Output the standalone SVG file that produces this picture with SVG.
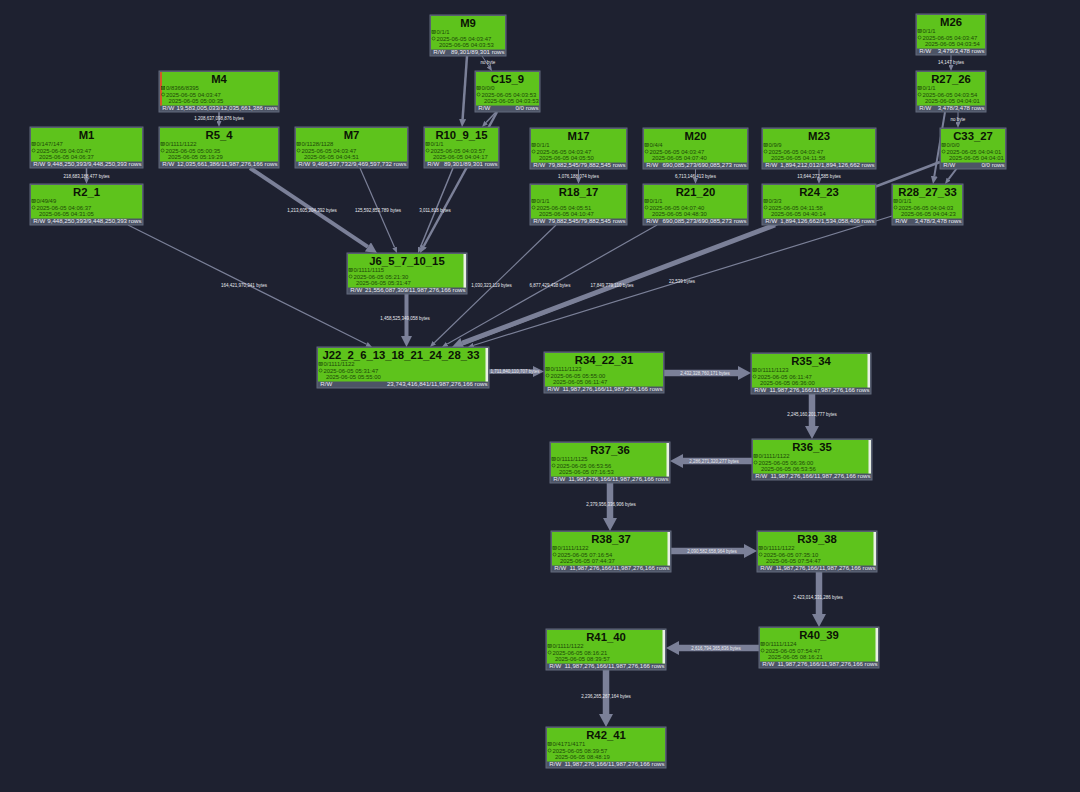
<svg xmlns="http://www.w3.org/2000/svg" xmlns:xlink="http://www.w3.org/1999/xlink" width="1080" height="792" viewBox="0 0 1080 792">
<style>
.bg{fill:#1e2130}
.box{fill:#4d5466;stroke:#626a7d;stroke-width:1}
.fill{fill:#5ec31c}
.ttl{font-family:"Liberation Sans",Arial,sans-serif;font-weight:bold;font-size:11.3px;fill:#0b1405;text-anchor:middle}
.tx{font-family:"Liberation Sans",Arial,sans-serif;font-size:5.9px;fill:#1d4a08}
.bt{font-family:"Liberation Sans",Arial,sans-serif;font-size:6.1px;fill:#e9ebf2}
.r{text-anchor:end}
.ic{fill:none;stroke:#1d4a08;stroke-width:0.6}
.e{stroke:#7b8098;fill:none;stroke-linecap:butt}
.ah{fill:#7b8098}
.el{font-family:"Liberation Sans",Arial,sans-serif;font-size:4.5px;fill:#e8e9ef;text-anchor:middle}
.pg{fill:#e9efe4}
.rs{fill:#d2572a}
</style>
<defs>
<g id="i1"><rect x="0" y="0" width="3.2" height="3.2" class="ic"/><path d="M0.6,0.6L2.6,2.6M2.6,0.6L0.6,2.6" class="ic"/></g>
<g id="i2"><circle cx="1.6" cy="1.6" r="1.5" class="ic"/></g>
<marker id="aS" markerUnits="userSpaceOnUse" viewBox="0 0 6 5" markerWidth="6" markerHeight="5" refX="0" refY="2.5" orient="auto"><path d="M0,0L6,2.5L0,5z" class="ah"/></marker>
<marker id="aM" markerUnits="userSpaceOnUse" viewBox="0 0 8 7" markerWidth="8" markerHeight="7" refX="0" refY="3.5" orient="auto"><path d="M0,0L8,3.5L0,7z" class="ah"/></marker>
<marker id="aL" markerUnits="userSpaceOnUse" viewBox="0 0 11 11" markerWidth="11" markerHeight="11" refX="0" refY="5.5" orient="auto"><path d="M0,0L11,5.5L0,11z" class="ah"/></marker>
<marker id="aX" markerUnits="userSpaceOnUse" viewBox="0 0 13 14" markerWidth="13" markerHeight="14" refX="0" refY="7" orient="auto"><path d="M0,0L13,7L0,14z" class="ah"/></marker>
</defs>
<rect class="bg" width="1080" height="792"/>
<g id="connectors">
<line class="e" stroke-width="1.5" x1="219" y1="112" x2="219" y2="121" marker-end="url(#aS)"/>
<line class="e" stroke-width="1.5" x1="86.5" y1="168" x2="86.5" y2="178" marker-end="url(#aS)"/>
<line class="e" stroke-width="2.5" x1="467" y1="56" x2="462.6" y2="119.1" marker-end="url(#aM)"/>
<line class="e" stroke-width="1" x1="482" y1="56" x2="488.7" y2="66" marker-end="url(#aS)"/>
<line class="e" stroke-width="1.5" x1="496" y1="112" x2="486.1" y2="122.6" marker-end="url(#aS)"/>
<line class="e" stroke-width="2.5" x1="497" y1="112" x2="423.8" y2="246" marker-end="url(#aM)"/>
<line class="e" stroke-width="1.5" x1="453" y1="168" x2="420.3" y2="247.5" marker-end="url(#aS)"/>
<line class="e" stroke-width="1.2" x1="360" y1="168" x2="394.6" y2="247.5" marker-end="url(#aS)"/>
<line class="e" stroke-width="4" x1="250" y1="168" x2="367.9" y2="246.9" marker-end="url(#aL)"/>
<line class="e" stroke-width="1.2" x1="128" y1="225" x2="366.6" y2="344.3" marker-end="url(#aS)"/>
<line class="e" stroke-width="4" x1="406.5" y1="294" x2="406.5" y2="336" marker-end="url(#aL)"/>
<line class="e" stroke-width="1" x1="578.5" y1="169" x2="578.5" y2="178" marker-end="url(#aS)"/>
<line class="e" stroke-width="1" x1="695.5" y1="169" x2="695.5" y2="178" marker-end="url(#aS)"/>
<line class="e" stroke-width="1" x1="819" y1="169" x2="819" y2="178" marker-end="url(#aS)"/>
<line class="e" stroke-width="1.2" x1="556" y1="225" x2="434.3" y2="342.8" marker-end="url(#aS)"/>
<line class="e" stroke-width="1.2" x1="657" y1="225" x2="447.2" y2="344" marker-end="url(#aS)"/>
<line class="e" stroke-width="2.5" x1="940" y1="162" x2="462.5" y2="344.2" marker-end="url(#aM)"/>
<line class="e" stroke-width="5" x1="775" y1="225" x2="462.3" y2="343.1" marker-end="url(#aL)"/>
<line class="e" stroke-width="1.2" x1="892" y1="216" x2="473.7" y2="345.2" marker-end="url(#aS)"/>
<line class="e" stroke-width="1" x1="951" y1="55" x2="951" y2="65" marker-end="url(#aS)"/>
<line class="e" stroke-width="1" x1="958" y1="112" x2="958" y2="122" marker-end="url(#aS)"/>
<line class="e" stroke-width="2" x1="945" y1="112" x2="934.3" y2="176.1" marker-end="url(#aM)"/>
<line class="e" stroke-width="2" x1="957" y1="168" x2="948.6" y2="179.2" marker-end="url(#aS)"/>
<line class="e" stroke-width="4.5" x1="489" y1="371.5" x2="533" y2="371.5" marker-end="url(#aL)"/>
<line class="e" stroke-width="6.5" x1="664" y1="373" x2="738" y2="373" marker-end="url(#aX)"/>
<line class="e" stroke-width="6.5" x1="812" y1="394" x2="812" y2="426" marker-end="url(#aX)"/>
<line class="e" stroke-width="6.5" x1="752" y1="461" x2="683" y2="461" marker-end="url(#aX)"/>
<line class="e" stroke-width="6.5" x1="610" y1="483" x2="610" y2="518" marker-end="url(#aX)"/>
<line class="e" stroke-width="6.5" x1="671" y1="551" x2="744" y2="551" marker-end="url(#aX)"/>
<line class="e" stroke-width="6.5" x1="819" y1="572" x2="819" y2="614" marker-end="url(#aX)"/>
<line class="e" stroke-width="6.5" x1="759" y1="648" x2="679" y2="648" marker-end="url(#aX)"/>
<line class="e" stroke-width="6.5" x1="606" y1="670" x2="606" y2="714" marker-end="url(#aX)"/>
</g>
<g id="nodes">
<g id="n-M9" transform="translate(430,15)"><rect class="box" width="76" height="41"/><rect class="fill" x="1" y="1" width="74" height="33.5"/><text class="ttl" x="38" y="12.2">M9</text><use href="#i1" x="2" y="15.4"/><text class="tx" x="6.5" y="19.2">0/1/1</text><use href="#i2" x="2" y="21.9"/><text class="tx" x="6.5" y="25.6">2025-06-05 04:03:47</text><text class="tx" x="9" y="32">2025-06-05 04:03:53</text><text class="bt" x="3.3" y="39.3">R/W</text><text class="bt r" x="74.5" y="39.3">89,301/89,301 rows</text></g>
<g id="n-C15_9" transform="translate(475,71)"><rect class="box" width="65" height="41"/><rect class="fill" x="1" y="1" width="63" height="33.5"/><text class="ttl" x="32.5" y="12.2">C15_9</text><use href="#i1" x="2" y="15.4"/><text class="tx" x="6.5" y="19.2">0/0/0</text><use href="#i2" x="2" y="21.9"/><text class="tx" x="6.5" y="25.6">2025-06-05 04:03:53</text><text class="tx" x="9" y="32">2025-06-05 04:03:53</text><text class="bt" x="3.3" y="39.3">R/W</text><text class="bt r" x="63.5" y="39.3">0/0 rows</text></g>
<g id="n-M26" transform="translate(916,14)"><rect class="box" width="70" height="41"/><rect class="fill" x="1" y="1" width="68" height="33.5"/><text class="ttl" x="35" y="12.2">M26</text><use href="#i1" x="2" y="15.4"/><text class="tx" x="6.5" y="19.2">0/1/1</text><use href="#i2" x="2" y="21.9"/><text class="tx" x="6.5" y="25.6">2025-06-05 04:03:47</text><text class="tx" x="9" y="32">2025-06-05 04:03:54</text><text class="bt" x="3.3" y="39.3">R/W</text><text class="bt r" x="68.5" y="39.3">3,479/3,478 rows</text></g>
<g id="n-R27_26" transform="translate(916,71)"><rect class="box" width="70" height="41"/><rect class="fill" x="1" y="1" width="68" height="33.5"/><text class="ttl" x="35" y="12.2">R27_26</text><use href="#i1" x="2" y="15.4"/><text class="tx" x="6.5" y="19.2">0/1/1</text><use href="#i2" x="2" y="21.9"/><text class="tx" x="6.5" y="25.6">2025-06-05 04:03:54</text><text class="tx" x="9" y="32">2025-06-05 04:04:01</text><text class="bt" x="3.3" y="39.3">R/W</text><text class="bt r" x="68.5" y="39.3">3,478/3,478 rows</text></g>
<g id="n-M4" transform="translate(159,71)"><rect class="box" width="120" height="41"/><rect class="fill" x="1" y="1" width="118" height="33.5"/><rect class="rs" x="1" y="1" width="2" height="33.5"/><text class="ttl" x="60" y="12.2">M4</text><use href="#i1" x="2.5" y="15.4"/><text class="tx" x="7" y="19.2">0/8366/8395</text><use href="#i2" x="2.5" y="21.9"/><text class="tx" x="7" y="25.6">2025-06-05 04:03:47</text><text class="tx" x="9.5" y="32">2025-06-05 05:00:35</text><text class="bt" x="3.3" y="39.3">R/W</text><text class="bt r" x="118.5" y="39.3">19,583,005,033/12,035,661,386 rows</text></g>
<g id="n-M1" transform="translate(30,127)"><rect class="box" width="113" height="41"/><rect class="fill" x="1" y="1" width="111" height="33.5"/><text class="ttl" x="56.5" y="12.2">M1</text><use href="#i1" x="2" y="15.4"/><text class="tx" x="6.5" y="19.2">0/147/147</text><use href="#i2" x="2" y="21.9"/><text class="tx" x="6.5" y="25.6">2025-06-05 04:03:47</text><text class="tx" x="9" y="32">2025-06-05 04:06:37</text><text class="bt" x="3.3" y="39.3">R/W</text><text class="bt r" x="111.5" y="39.3">9,448,250,393/9,448,250,393 rows</text></g>
<g id="n-R5_4" transform="translate(159,127)"><rect class="box" width="120" height="41"/><rect class="fill" x="1" y="1" width="118" height="33.5"/><text class="ttl" x="60" y="12.2">R5_4</text><use href="#i1" x="2" y="15.4"/><text class="tx" x="6.5" y="19.2">0/1111/1122</text><use href="#i2" x="2" y="21.9"/><text class="tx" x="6.5" y="25.6">2025-06-05 05:00:35</text><text class="tx" x="9" y="32">2025-06-05 05:19:29</text><text class="bt" x="3.3" y="39.3">R/W</text><text class="bt r" x="118.5" y="39.3">12,035,661,386/11,987,276,166 rows</text></g>
<g id="n-M7" transform="translate(295,127)"><rect class="box" width="113" height="41"/><rect class="fill" x="1" y="1" width="111" height="33.5"/><text class="ttl" x="56.5" y="12.2">M7</text><use href="#i1" x="2" y="15.4"/><text class="tx" x="6.5" y="19.2">0/1128/1128</text><use href="#i2" x="2" y="21.9"/><text class="tx" x="6.5" y="25.6">2025-06-05 04:03:47</text><text class="tx" x="9" y="32">2025-06-05 04:04:51</text><text class="bt" x="3.3" y="39.3">R/W</text><text class="bt r" x="111.5" y="39.3">9,469,597,732/9,469,597,732 rows</text></g>
<g id="n-R10_9_15" transform="translate(424,127)"><rect class="box" width="75" height="41"/><rect class="fill" x="1" y="1" width="73" height="33.5"/><text class="ttl" x="37.5" y="12.2">R10_9_15</text><use href="#i1" x="2" y="15.4"/><text class="tx" x="6.5" y="19.2">0/1/1</text><use href="#i2" x="2" y="21.9"/><text class="tx" x="6.5" y="25.6">2025-06-05 04:03:57</text><text class="tx" x="9" y="32">2025-06-05 04:04:17</text><text class="bt" x="3.3" y="39.3">R/W</text><text class="bt r" x="73.5" y="39.3">89,301/89,301 rows</text></g>
<g id="n-M17" transform="translate(530,128)"><rect class="box" width="97" height="41"/><rect class="fill" x="1" y="1" width="95" height="33.5"/><text class="ttl" x="48.5" y="12.2">M17</text><use href="#i1" x="2" y="15.4"/><text class="tx" x="6.5" y="19.2">0/1/1</text><use href="#i2" x="2" y="21.9"/><text class="tx" x="6.5" y="25.6">2025-06-05 04:03:47</text><text class="tx" x="9" y="32">2025-06-05 04:05:50</text><text class="bt" x="3.3" y="39.3">R/W</text><text class="bt r" x="95.5" y="39.3">79,882,545/79,882,545 rows</text></g>
<g id="n-M20" transform="translate(643,128)"><rect class="box" width="105" height="41"/><rect class="fill" x="1" y="1" width="103" height="33.5"/><text class="ttl" x="52.5" y="12.2">M20</text><use href="#i1" x="2" y="15.4"/><text class="tx" x="6.5" y="19.2">0/4/4</text><use href="#i2" x="2" y="21.9"/><text class="tx" x="6.5" y="25.6">2025-06-05 04:03:47</text><text class="tx" x="9" y="32">2025-06-05 04:07:40</text><text class="bt" x="3.3" y="39.3">R/W</text><text class="bt r" x="103.5" y="39.3">690,085,273/690,085,273 rows</text></g>
<g id="n-M23" transform="translate(762,128)"><rect class="box" width="114" height="41"/><rect class="fill" x="1" y="1" width="112" height="33.5"/><text class="ttl" x="57" y="12.2">M23</text><use href="#i1" x="2" y="15.4"/><text class="tx" x="6.5" y="19.2">0/9/9</text><use href="#i2" x="2" y="21.9"/><text class="tx" x="6.5" y="25.6">2025-06-05 04:03:47</text><text class="tx" x="9" y="32">2025-06-05 04:11:58</text><text class="bt" x="3.3" y="39.3">R/W</text><text class="bt r" x="112.5" y="39.3">1,894,212,012/1,894,126,662 rows</text></g>
<g id="n-C33_27" transform="translate(940,128)"><rect class="box" width="66" height="41"/><rect class="fill" x="1" y="1" width="64" height="33.5"/><text class="ttl" x="33" y="12.2">C33_27</text><use href="#i1" x="2" y="15.4"/><text class="tx" x="6.5" y="19.2">0/0/0</text><use href="#i2" x="2" y="21.9"/><text class="tx" x="6.5" y="25.6">2025-06-05 04:04:01</text><text class="tx" x="9" y="32">2025-06-05 04:04:01</text><text class="bt" x="3.3" y="39.3">R/W</text><text class="bt r" x="64.5" y="39.3">0/0 rows</text></g>
<g id="n-R2_1" transform="translate(30,184)"><rect class="box" width="113" height="41"/><rect class="fill" x="1" y="1" width="111" height="33.5"/><text class="ttl" x="56.5" y="12.2">R2_1</text><use href="#i1" x="2" y="15.4"/><text class="tx" x="6.5" y="19.2">0/49/49</text><use href="#i2" x="2" y="21.9"/><text class="tx" x="6.5" y="25.6">2025-06-05 04:06:37</text><text class="tx" x="9" y="32">2025-06-05 04:31:05</text><text class="bt" x="3.3" y="39.3">R/W</text><text class="bt r" x="111.5" y="39.3">9,448,250,393/9,448,250,393 rows</text></g>
<g id="n-R18_17" transform="translate(530,184)"><rect class="box" width="97" height="41"/><rect class="fill" x="1" y="1" width="95" height="33.5"/><text class="ttl" x="48.5" y="12.2">R18_17</text><use href="#i1" x="2" y="15.4"/><text class="tx" x="6.5" y="19.2">0/1/1</text><use href="#i2" x="2" y="21.9"/><text class="tx" x="6.5" y="25.6">2025-06-05 04:05:51</text><text class="tx" x="9" y="32">2025-06-05 04:10:47</text><text class="bt" x="3.3" y="39.3">R/W</text><text class="bt r" x="95.5" y="39.3">79,882,545/79,882,545 rows</text></g>
<g id="n-R21_20" transform="translate(643,184)"><rect class="box" width="105" height="41"/><rect class="fill" x="1" y="1" width="103" height="33.5"/><text class="ttl" x="52.5" y="12.2">R21_20</text><use href="#i1" x="2" y="15.4"/><text class="tx" x="6.5" y="19.2">0/1/1</text><use href="#i2" x="2" y="21.9"/><text class="tx" x="6.5" y="25.6">2025-06-05 04:07:40</text><text class="tx" x="9" y="32">2025-06-05 04:48:30</text><text class="bt" x="3.3" y="39.3">R/W</text><text class="bt r" x="103.5" y="39.3">690,085,273/690,085,273 rows</text></g>
<g id="n-R24_23" transform="translate(762,184)"><rect class="box" width="114" height="41"/><rect class="fill" x="1" y="1" width="112" height="33.5"/><text class="ttl" x="57" y="12.2">R24_23</text><use href="#i1" x="2" y="15.4"/><text class="tx" x="6.5" y="19.2">0/3/3</text><use href="#i2" x="2" y="21.9"/><text class="tx" x="6.5" y="25.6">2025-06-05 04:11:58</text><text class="tx" x="9" y="32">2025-06-05 04:40:14</text><text class="bt" x="3.3" y="39.3">R/W</text><text class="bt r" x="112.5" y="39.3">1,894,126,662/1,534,058,406 rows</text></g>
<g id="n-R28_27_33" transform="translate(892,184)"><rect class="box" width="71" height="41"/><rect class="fill" x="1" y="1" width="69" height="33.5"/><text class="ttl" x="35.5" y="12.2">R28_27_33</text><use href="#i1" x="2" y="15.4"/><text class="tx" x="6.5" y="19.2">0/1/1</text><use href="#i2" x="2" y="21.9"/><text class="tx" x="6.5" y="25.6">2025-06-05 04:04:03</text><text class="tx" x="9" y="32">2025-06-05 04:04:23</text><text class="bt" x="3.3" y="39.3">R/W</text><text class="bt r" x="69.5" y="39.3">3,478/3,478 rows</text></g>
<g id="n-J6_5_7_10_15" transform="translate(347,253)"><rect class="box" width="120" height="41"/><rect class="fill" x="1" y="1" width="118" height="33.5"/><rect class="pg" x="116.5" y="1" width="2.5" height="33.5"/><text class="ttl" x="60" y="12.2">J6_5_7_10_15</text><use href="#i1" x="2" y="15.4"/><text class="tx" x="6.5" y="19.2">0/1111/1115</text><use href="#i2" x="2" y="21.9"/><text class="tx" x="6.5" y="25.6">2025-06-05 05:21:30</text><text class="tx" x="9" y="32">2025-06-05 05:31:47</text><text class="bt" x="3.3" y="39.3">R/W</text><text class="bt r" x="118.5" y="39.3">21,556,087,309/11,987,276,166 rows</text></g>
<g id="n-J22" transform="translate(317,347)"><rect class="box" width="172" height="41"/><rect class="fill" x="1" y="1" width="170" height="33.5"/><rect class="pg" x="168.5" y="1" width="2.5" height="33.5"/><text class="ttl" x="84" y="12.2">J22_2_6_13_18_21_24_28_33</text><use href="#i1" x="2" y="15.4"/><text class="tx" x="6.5" y="19.2">0/1111/1122</text><use href="#i2" x="2" y="21.9"/><text class="tx" x="6.5" y="25.6">2025-06-05 05:31:47</text><text class="tx" x="9" y="32">2025-06-05 05:55:00</text><text class="bt" x="3.3" y="39.3">R/W</text><text class="bt r" x="170.5" y="39.3">23,743,416,841/11,987,276,166 rows</text></g>
<g id="n-R34_22_31" transform="translate(544,352)"><rect class="box" width="120" height="41"/><rect class="fill" x="1" y="1" width="118" height="33.5"/><text class="ttl" x="60" y="12.2">R34_22_31</text><use href="#i1" x="2" y="15.4"/><text class="tx" x="6.5" y="19.2">0/1111/1123</text><use href="#i2" x="2" y="21.9"/><text class="tx" x="6.5" y="25.6">2025-06-05 05:55:00</text><text class="tx" x="9" y="32">2025-06-05 06:11:47</text><text class="bt" x="3.3" y="39.3">R/W</text><text class="bt r" x="118.5" y="39.3">11,987,276,166/11,987,276,166 rows</text></g>
<g id="n-R35_34" transform="translate(751,353)"><rect class="box" width="120" height="41"/><rect class="fill" x="1" y="1" width="118" height="33.5"/><rect class="pg" x="116.5" y="1" width="2.5" height="33.5"/><text class="ttl" x="60" y="12.2">R35_34</text><use href="#i1" x="2" y="15.4"/><text class="tx" x="6.5" y="19.2">0/1111/1123</text><use href="#i2" x="2" y="21.9"/><text class="tx" x="6.5" y="25.6">2025-06-05 06:11:47</text><text class="tx" x="9" y="32">2025-06-05 06:36:00</text><text class="bt" x="3.3" y="39.3">R/W</text><text class="bt r" x="118.5" y="39.3">11,987,276,166/11,987,276,166 rows</text></g>
<g id="n-R36_35" transform="translate(752,439)"><rect class="box" width="120" height="41"/><rect class="fill" x="1" y="1" width="118" height="33.5"/><rect class="pg" x="116.5" y="1" width="2.5" height="33.5"/><text class="ttl" x="60" y="12.2">R36_35</text><use href="#i1" x="2" y="15.4"/><text class="tx" x="6.5" y="19.2">0/1111/1122</text><use href="#i2" x="2" y="21.9"/><text class="tx" x="6.5" y="25.6">2025-06-05 06:36:00</text><text class="tx" x="9" y="32">2025-06-05 06:53:56</text><text class="bt" x="3.3" y="39.3">R/W</text><text class="bt r" x="118.5" y="39.3">11,987,276,166/11,987,276,166 rows</text></g>
<g id="n-R37_36" transform="translate(550,442)"><rect class="box" width="120" height="41"/><rect class="fill" x="1" y="1" width="118" height="33.5"/><rect class="pg" x="116.5" y="1" width="2.5" height="33.5"/><text class="ttl" x="60" y="12.2">R37_36</text><use href="#i1" x="2" y="15.4"/><text class="tx" x="6.5" y="19.2">0/1111/1125</text><use href="#i2" x="2" y="21.9"/><text class="tx" x="6.5" y="25.6">2025-06-05 06:53:56</text><text class="tx" x="9" y="32">2025-06-05 07:16:53</text><text class="bt" x="3.3" y="39.3">R/W</text><text class="bt r" x="118.5" y="39.3">11,987,276,166/11,987,276,166 rows</text></g>
<g id="n-R38_37" transform="translate(551,531)"><rect class="box" width="120" height="41"/><rect class="fill" x="1" y="1" width="118" height="33.5"/><rect class="pg" x="116.5" y="1" width="2.5" height="33.5"/><text class="ttl" x="60" y="12.2">R38_37</text><use href="#i1" x="2" y="15.4"/><text class="tx" x="6.5" y="19.2">0/1111/1122</text><use href="#i2" x="2" y="21.9"/><text class="tx" x="6.5" y="25.6">2025-06-05 07:16:54</text><text class="tx" x="9" y="32">2025-06-05 07:44:37</text><text class="bt" x="3.3" y="39.3">R/W</text><text class="bt r" x="118.5" y="39.3">11,987,276,166/11,987,276,166 rows</text></g>
<g id="n-R39_38" transform="translate(757,531)"><rect class="box" width="120" height="41"/><rect class="fill" x="1" y="1" width="118" height="33.5"/><rect class="pg" x="116.5" y="1" width="2.5" height="33.5"/><text class="ttl" x="60" y="12.2">R39_38</text><use href="#i1" x="2" y="15.4"/><text class="tx" x="6.5" y="19.2">0/1111/1122</text><use href="#i2" x="2" y="21.9"/><text class="tx" x="6.5" y="25.6">2025-06-05 07:35:10</text><text class="tx" x="9" y="32">2025-06-05 07:54:47</text><text class="bt" x="3.3" y="39.3">R/W</text><text class="bt r" x="118.5" y="39.3">11,987,276,166/11,987,276,166 rows</text></g>
<g id="n-R40_39" transform="translate(759,627)"><rect class="box" width="120" height="41"/><rect class="fill" x="1" y="1" width="118" height="33.5"/><rect class="pg" x="116.5" y="1" width="2.5" height="33.5"/><text class="ttl" x="60" y="12.2">R40_39</text><use href="#i1" x="2" y="15.4"/><text class="tx" x="6.5" y="19.2">0/1111/1124</text><use href="#i2" x="2" y="21.9"/><text class="tx" x="6.5" y="25.6">2025-06-05 07:54:47</text><text class="tx" x="9" y="32">2025-06-05 08:16:21</text><text class="bt" x="3.3" y="39.3">R/W</text><text class="bt r" x="118.5" y="39.3">11,987,276,166/11,987,276,166 rows</text></g>
<g id="n-R41_40" transform="translate(546,629)"><rect class="box" width="120" height="41"/><rect class="fill" x="1" y="1" width="118" height="33.5"/><rect class="pg" x="116.5" y="1" width="2.5" height="33.5"/><text class="ttl" x="60" y="12.2">R41_40</text><use href="#i1" x="2" y="15.4"/><text class="tx" x="6.5" y="19.2">0/1111/1122</text><use href="#i2" x="2" y="21.9"/><text class="tx" x="6.5" y="25.6">2025-06-05 08:16:21</text><text class="tx" x="9" y="32">2025-06-05 08:39:57</text><text class="bt" x="3.3" y="39.3">R/W</text><text class="bt r" x="118.5" y="39.3">11,987,276,166/11,987,276,166 rows</text></g>
<g id="n-R42_41" transform="translate(546,727)"><rect class="box" width="120" height="41"/><rect class="fill" x="1" y="1" width="118" height="33.5"/><text class="ttl" x="60" y="12.2">R42_41</text><use href="#i1" x="2" y="15.4"/><text class="tx" x="6.5" y="19.2">0/4171/4171</text><use href="#i2" x="2" y="21.9"/><text class="tx" x="6.5" y="25.6">2025-06-05 08:39:57</text><text class="tx" x="9" y="32">2025-06-05 08:48:19</text><text class="bt" x="3.3" y="39.3">R/W</text><text class="bt r" x="118.5" y="39.3">11,987,276,166/11,987,276,166 rows</text></g>
</g>
<g id="edge-labels">
<text class="el" x="219" y="119.6">1,208,637,098,876 bytes</text>
<text class="el" x="86.5" y="177.6">218,683,188,477 bytes</text>
<text class="el" x="488" y="64.3">no byte</text>
<text class="el" x="435" y="211.6">3,011,818 bytes</text>
<text class="el" x="378" y="211.6">125,592,853,789 bytes</text>
<text class="el" x="312" y="211.6">1,213,605,204,392 bytes</text>
<text class="el" x="244" y="286.8">164,421,970,341 bytes</text>
<text class="el" x="405" y="319.6">1,458,525,349,058 bytes</text>
<text class="el" x="491.5" y="286.6">1,030,323,119 bytes</text>
<text class="el" x="550" y="286.6">6,877,429,438 bytes</text>
<text class="el" x="612" y="286.6">17,849,779,110 bytes</text>
<text class="el" x="682" y="282.6">22,539 bytes</text>
<text class="el" x="578.5" y="177.6">1,076,188,074 bytes</text>
<text class="el" x="695.5" y="177.6">6,713,146,413 bytes</text>
<text class="el" x="819" y="177.6">13,644,272,585 bytes</text>
<text class="el" x="951" y="63.9">14,147 bytes</text>
<text class="el" x="958" y="120.6">no byte</text>
<text class="el" x="515" y="373.1">1,711,840,110,707 bytes</text>
<text class="el" x="705" y="374.6">2,432,328,760,171 bytes</text>
<text class="el" x="812" y="415.6">2,245,160,201,777 bytes</text>
<text class="el" x="714" y="462.6">2,286,271,320,277 bytes</text>
<text class="el" x="611" y="505.6">2,379,956,336,906 bytes</text>
<text class="el" x="712" y="552.6">2,090,582,658,964 bytes</text>
<text class="el" x="818" y="598.6">2,423,014,331,286 bytes</text>
<text class="el" x="716" y="649.6">2,616,794,365,836 bytes</text>
<text class="el" x="606" y="697.6">2,236,265,267,164 bytes</text>
</g>
</svg>
